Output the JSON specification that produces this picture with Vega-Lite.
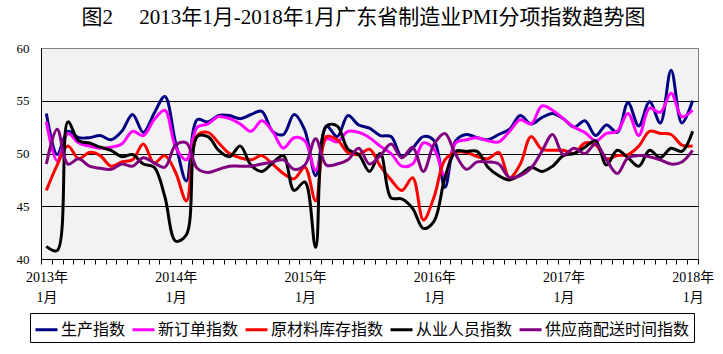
{
 "$schema": "https://vega.github.io/schema/vega-lite/v6.json",
 "autosize": "none",
 "padding": {"left": 41, "top": 48, "right": 25, "bottom": 95},
 "width": 657,
 "height": 211,
 "background": "white",
 "config": {"view": {"fill": "#f2f2f2", "stroke": "#808080", "strokeWidth": 1}, "font": "Liberation Serif, Noto Sans CJK SC"},
 "title": {"text": "图2　 2013年1月-2018年1月广东省制造业PMI分项指数趋势图", "fontSize": 21, "font": "Liberation Serif, Noto Sans CJK SC", "fontWeight": "normal", "color": "black", "anchor": "middle", "dx": -6, "offset": 14},
 "data": {"values": [
  {"m":0,"生产指数":53.8,"新订单指数":53.0,"原材料库存指数":46.5,"从业人员指数":41.2,"供应商配送时间指数":49.0},
  {"m":1,"生产指数":49.9,"新订单指数":49.3,"原材料库存指数":48.9,"从业人员指数":40.8,"供应商配送时间指数":52.3},
  {"m":2,"生产指数":52.1,"新订单指数":51.9,"原材料库存指数":50.7,"从业人员指数":53.0,"供应商配送时间指数":49.0},
  {"m":3,"生产指数":51.5,"新订单指数":51.0,"原材料库存指数":49.5,"从业人员指数":51.2,"供应商配送时间指数":49.5},
  {"m":4,"生产指数":51.5,"新订单指数":50.7,"原材料库存指数":50.1,"从业人员指数":51.0,"供应商配送时间指数":48.8},
  {"m":5,"生产指数":51.7,"新订单指数":50.5,"原材料库存指数":49.8,"从业人员指数":50.6,"供应商配送时间指数":48.6},
  {"m":6,"生产指数":51.3,"新订单指数":50.6,"原材料库存指数":48.8,"从业人员指数":50.3,"供应商配送时间指数":48.5},
  {"m":7,"生产指数":52.1,"新订单指数":50.9,"原材料库存指数":49.2,"从业人员指数":49.7,"供应商配送时间指数":49.0},
  {"m":8,"生产指数":53.7,"新订单指数":52.1,"原材料库存指数":49.4,"从业人员指数":49.9,"供应商配送时间指数":48.8},
  {"m":9,"生产指数":52.0,"新订单指数":51.7,"原材料库存指数":50.9,"从业人员指数":49.0,"供应商配送时间指数":49.6},
  {"m":10,"生产指数":53.8,"新订单指数":53.2,"原材料库存指数":49.1,"从业人员指数":48.7,"供应商配送时间指数":49.1},
  {"m":11,"生产指数":55.4,"新订单指数":54.1,"原材料库存指数":49.8,"从业人员指数":45.9,"供应商配送时间指数":48.7},
  {"m":12,"生产指数":51.0,"新订单指数":50.6,"原材料库存指数":48.2,"从业人员指数":41.7,"供应商配送时间指数":50.8},
  {"m":13,"生产指数":47.4,"新订单指数":49.4,"原材料库存指数":45.5,"从业人员指数":42.3,"供应商配送时间指数":51.0},
  {"m":14,"生产指数":53.2,"新订单指数":52.5,"原材料库存指数":51.7,"从业人员指数":51.6,"供应商配送时间指数":48.6},
  {"m":15,"生产指数":53.0,"新订单指数":52.8,"原材料库存指数":52.0,"从业人员指数":51.6,"供应商配送时间指数":48.2},
  {"m":16,"生产指数":53.6,"新订单指数":53.5,"原材料库存指数":51.0,"从业人员指数":50.3,"供应商配送时间指数":48.5},
  {"m":17,"生产指数":53.6,"新订单指数":53.3,"原材料库存指数":50.0,"从业人员指数":49.7,"供应商配送时间指数":48.8},
  {"m":18,"生产指数":53.3,"新订单指数":52.8,"原材料库存指数":49.6,"从业人员指数":50.7,"供应商配送时间指数":48.8},
  {"m":19,"生产指数":53.7,"新订单指数":52.1,"原材料库存指数":49.4,"从业人员指数":48.9,"供应商配送时间指数":48.8},
  {"m":20,"生产指数":54.0,"新订单指数":53.1,"原材料库存指数":49.8,"从业人员指数":48.3,"供应商配送时间指数":49.0},
  {"m":21,"生产指数":52.1,"新订单指数":52.1,"原材料库存指数":49.0,"从业人员指数":49.1,"供应商配送时间指数":49.2},
  {"m":22,"生产指数":51.8,"新订单指数":50.5,"原材料库存指数":48.1,"从业人员指数":49.8,"供应商配送时间指数":49.4},
  {"m":23,"生产指数":53.7,"新订单指数":51.5,"原材料库存指数":47.6,"从业人员指数":46.5,"供应商配送时间指数":48.5},
  {"m":24,"生产指数":52.2,"新订单指数":51.2,"原材料库存指数":48.7,"从业人员指数":47.3,"供应商配送时间指数":48.9},
  {"m":25,"生产指数":47.9,"新订单指数":48.4,"原材料库存指数":45.5,"从业人员指数":41.1,"供应商配送时间指数":51.4},
  {"m":26,"生产指数":52.6,"新订单指数":51.4,"原材料库存指数":51.6,"从业人员指数":52.6,"供应商配送时间指数":48.9},
  {"m":27,"生产指数":51.6,"新订单指数":51.1,"原材料库存指数":51.3,"从业人员指数":52.6,"供应商配送时间指数":49.0},
  {"m":28,"生产指数":53.6,"新订单指数":52.1,"原材料库存指数":50.1,"从业人员指数":50.4,"供应商配送时间指数":49.4},
  {"m":29,"生产指数":52.7,"新订单指数":52.0,"原材料库存指数":49.9,"从业人员指数":49.9,"供应商配送时间指数":50.5},
  {"m":30,"生产指数":52.4,"新订单指数":51.5,"原材料库存指数":50.4,"从业人员指数":48.3,"供应商配送时间指数":49.0},
  {"m":31,"生产指数":51.7,"新订单指数":50.7,"原材料库存指数":48.8,"从业人员指数":50.0,"供应商配送时间指数":49.8},
  {"m":32,"生产指数":51.6,"新订单指数":50.0,"原材料库存指数":47.5,"从业人员指数":45.8,"供应商配送时间指数":50.9},
  {"m":33,"生产指数":49.7,"新订单指数":48.8,"原材料库存指数":46.5,"从业人员指数":45.7,"供应商配送时间指数":49.6},
  {"m":34,"生产指数":50.5,"新订单指数":49.0,"原材料库存指数":47.7,"从业人员指数":44.8,"供应商配送时间指数":50.6},
  {"m":35,"生产指数":51.6,"新订单指数":51.0,"原材料库存指数":43.7,"从业人员指数":42.9,"供应商配送时间指数":48.3},
  {"m":36,"生产指数":51.2,"新订单指数":50.4,"原材料库存指数":45.9,"从业人员指数":43.6,"供应商配送时间指数":50.9},
  {"m":37,"生产指数":46.8,"新订单指数":47.9,"原材料库存指数":49.4,"从业人员指数":47.7,"供应商配送时间指数":51.9},
  {"m":38,"生产指数":51.2,"新订单指数":51.0,"原材料库存指数":50.1,"从业人员指数":50.2,"供应商配送时间指数":49.9},
  {"m":39,"生产指数":51.8,"新订单指数":51.3,"原材料库存指数":50.1,"从业人员指数":50.2,"供应商配送时间指数":48.5},
  {"m":40,"生产指数":51.5,"新订单指数":51.5,"原材料库存指数":49.7,"从业人员指数":50.2,"供应商配送时间指数":49.2},
  {"m":41,"生产指数":51.3,"新订单指数":51.2,"原材料库存指数":49.5,"从业人员指数":48.7,"供应商配送时间指数":49.2},
  {"m":42,"生产指数":51.8,"新订单指数":51.1,"原材料库存指数":50.1,"从业人员指数":47.9,"供应商配送时间指数":49.0},
  {"m":43,"生产指数":52.3,"新订单指数":52.1,"原材料库存指数":47.7,"从业人员指数":47.5,"供应商配送时间指数":47.7},
  {"m":44,"生产指数":53.6,"新订单指数":53.2,"原材料库存指数":49.0,"从业人员指数":48.0,"供应商配送时间指数":47.9},
  {"m":45,"生产指数":52.8,"新订单指数":52.8,"原材料库存指数":51.6,"从业人员指数":48.7,"供应商配送时间指数":48.6},
  {"m":46,"生产指数":53.4,"新订单指数":54.5,"原材料库存指数":50.4,"从业人员指数":48.3,"供应商配送时间指数":50.2},
  {"m":47,"生产指数":53.8,"新订单指数":54.1,"原材料库存指数":50.3,"从业人员指数":48.8,"供应商配送时间指数":51.8},
  {"m":48,"生产指数":53.3,"新订单指数":53.3,"原材料库存指数":50.3,"从业人员指数":49.8,"供应商配送时间指数":49.9},
  {"m":49,"生产指数":52.5,"新订单指数":52.5,"原材料库存指数":50.0,"从业人员指数":50.0,"供应商配送时间指数":50.5},
  {"m":50,"生产指数":53.1,"新订单指数":52.0,"原材料库存指数":51.0,"从业人员指数":50.6,"供应商配送时间指数":50.0},
  {"m":51,"生产指数":51.7,"新订单指数":51.2,"原材料库存指数":50.8,"从业人员指数":51.2,"供应商配送时间指数":50.9},
  {"m":52,"生产指数":52.7,"新订单指数":51.9,"原材料库存指数":49.5,"从业人员指数":48.9,"供应商配送时间指数":49.4},
  {"m":53,"生产指数":52.0,"新订单指数":52.1,"原材料库存指数":49.8,"从业人员指数":50.3,"供应商配送时间指数":48.1},
  {"m":54,"生产指数":54.8,"新订单指数":53.8,"原材料库存指数":49.9,"从业人员指数":49.6,"供应商配送时间指数":49.6},
  {"m":55,"生产指数":52.6,"新订单指数":51.7,"原材料库存指数":50.7,"从业人员指数":48.8,"供应商配送时间指数":49.8},
  {"m":56,"生产指数":54.9,"新订单指数":54.3,"原材料库存指数":52.1,"从业人员指数":50.3,"供应商配送时间指数":49.7},
  {"m":57,"生产指数":52.9,"新订单指数":53.9,"原材料库存指数":51.9,"从业人员指数":49.6,"供应商配送时间指数":49.4},
  {"m":58,"生产指数":57.9,"新订单指数":55.7,"原材料库存指数":51.8,"从业人员指数":50.5,"供应商配送时间指数":49.0},
  {"m":59,"生产指数":52.9,"新订单指数":53.5,"原材料库存指数":50.8,"从业人员指数":50.2,"供应商配送时间指数":49.2},
  {"m":60,"生产指数":55.0,"新订单指数":54.1,"原材料库存指数":50.7,"从业人员指数":52.1,"供应商配送时间指数":50.3}
 ]},
 "transform": [{"fold": ["生产指数", "新订单指数", "原材料库存指数", "从业人员指数", "供应商配送时间指数"], "as": ["series", "value"]}],
 "mark": {"type": "line", "interpolate": "catmull-rom", "strokeWidth": 3},
 "encoding": {
  "x": {"field": "m", "type": "quantitative",
   "scale": {"domain": [-0.5, 60.5], "nice": false, "zero": false},
   "axis": {"values": [-0.5,0.5,1.5,2.5,3.5,4.5,5.5,6.5,7.5,8.5,9.5,10.5,11.5,12.5,13.5,14.5,15.5,16.5,17.5,18.5,19.5,20.5,21.5,22.5,23.5,24.5,25.5,26.5,27.5,28.5,29.5,30.5,31.5,32.5,33.5,34.5,35.5,36.5,37.5,38.5,39.5,40.5,41.5,42.5,43.5,44.5,45.5,46.5,47.5,48.5,49.5,50.5,51.5,52.5,53.5,54.5,55.5,56.5,57.5,58.5,59.5,60.5],
    "labelExpr": "(datum.value + 0.5) % 12 == 0 ? [toString(2013 + (datum.value + 0.5) / 12) + '年', '1月'] : ''",
    "labelOffset": 5.4, "labelFlush": false, "labelOverlap": false, "labelBound": false,
    "labelFontSize": 14, "labelColor": "black", "labelLineHeight": 20, "labelPadding": 6,
    "tickSize": 5, "tickColor": "black", "domainColor": "black", "grid": false, "title": null}},
  "y": {"field": "value", "type": "quantitative",
   "scale": {"domain": [40, 60], "nice": false, "zero": false},
   "axis": {"values": [40, 45, 50, 55, 60], "grid": true,
    "gridColor": {"condition": {"test": "datum.value == 60", "value": "#808080"}, "value": "black"},
    "gridOpacity": 1, "ticks": false, "labelPadding": 12, "labelFontSize": 13, "labelColor": "black",
    "domainColor": "black", "title": null}},
  "color": {"field": "series", "type": "nominal",
   "scale": {"domain": ["生产指数", "新订单指数", "原材料库存指数", "从业人员指数", "供应商配送时间指数"], "range": ["#000080", "#ff00ff", "#ff0000", "#000000", "#800080"]},
   "legend": {"orient": "none", "legendX": -11, "legendY": 265, "direction": "horizontal", "title": null,
    "symbolType": "stroke", "symbolSize": 484, "symbolStrokeWidth": 3, "labelFontSize": 16, "labelFont": "Noto Sans CJK SC",
    "labelColor": "black", "labelOffset": 2, "columnPadding": 0, "padding": 4, "strokeColor": "black", "fillColor": "white"}}
 }
}
